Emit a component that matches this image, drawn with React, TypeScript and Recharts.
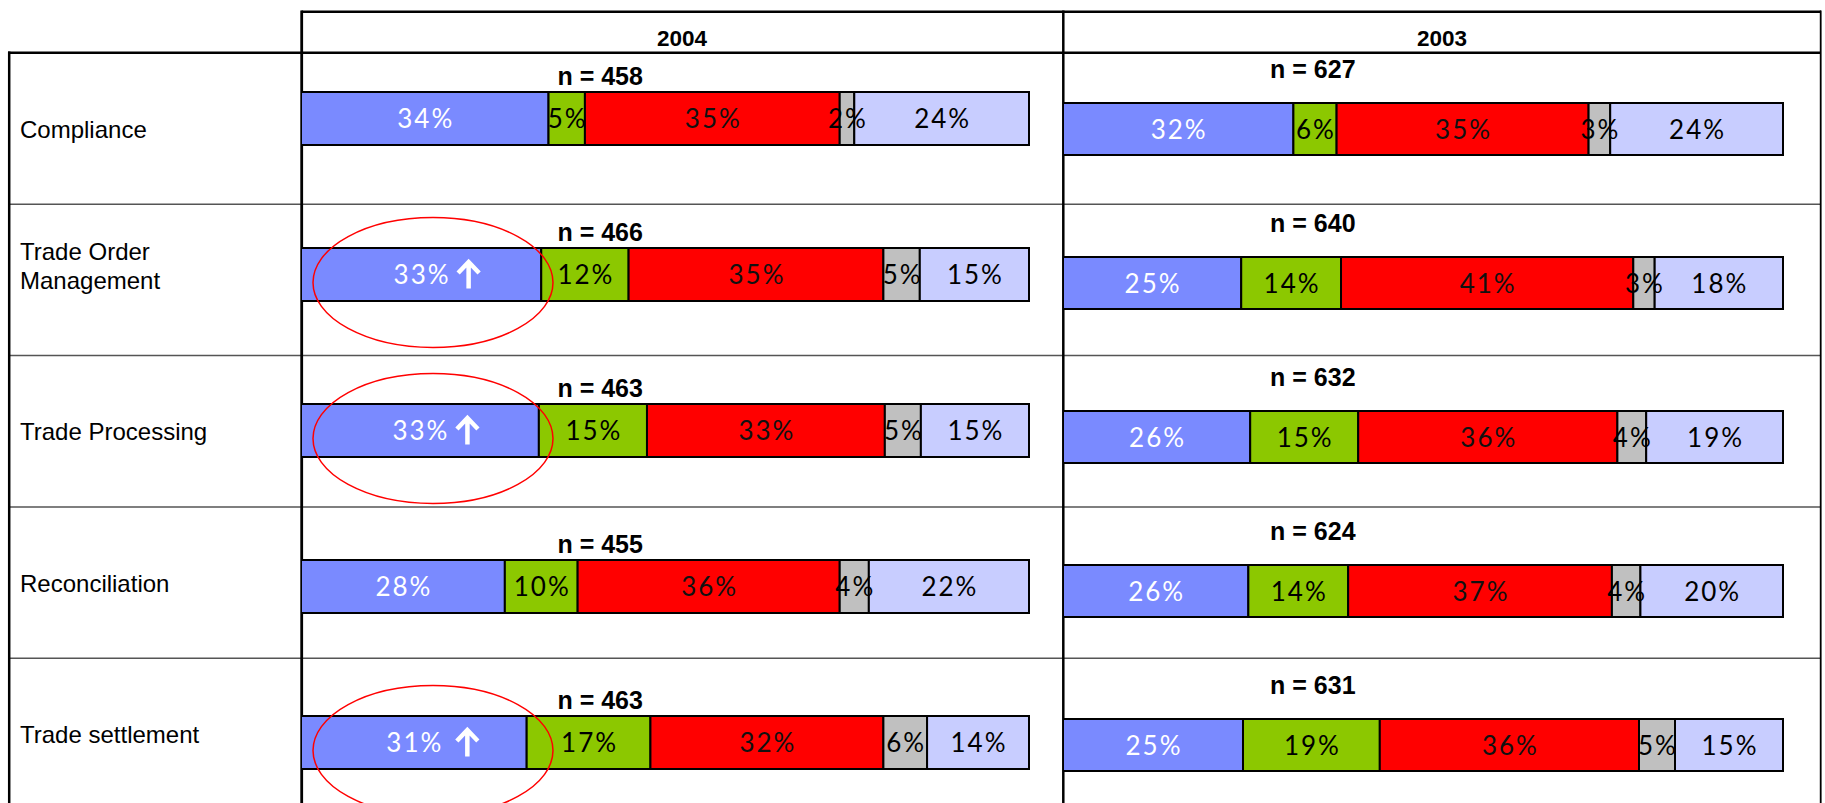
import React from "react";
import { BarChart, Bar, XAxis, YAxis, LabelList } from "recharts";

// ---------- data ----------
const categories = [
  "Compliance",
  "Trade Order Management",
  "Trade Processing",
  "Reconciliation",
  "Trade settlement",
];
const years = ["2004", "2003"];

const s1_2004 = [34, 33, 33, 28, 31];
const s2_2004 = [5, 12, 15, 10, 17];
const s3_2004 = [35, 35, 33, 36, 32];
const s4_2004 = [2, 5, 5, 4, 6];
const s5_2004 = [24, 15, 15, 22, 14];
const n_2004 = [458, 466, 463, 455, 463];
const up_2004 = ["none", "tight", "tight", "none", "space"];

const s1_2003 = [32, 25, 26, 26, 25];
const s2_2003 = [6, 14, 15, 14, 19];
const s3_2003 = [35, 41, 36, 37, 36];
const s4_2003 = [3, 3, 4, 4, 5];
const s5_2003 = [24, 18, 19, 20, 15];
const n_2003 = [627, 640, 632, 624, 631];
const up_2003 = ["none", "none", "none", "none", "none"];

// ---------- styles ----------
const segColors = ["#7A8AFF", "#8CC800", "#FF0000", "#C0C0C0", "#C8CDFF"];
const segTextColors = ["#FFFFFF", "#000000", "#111111", "#000000", "#000000"];
const pctFont = "Lato, 'Open Sans', 'DejaVu Sans', sans-serif";
const boldFont = "'Liberation Sans', Arial, sans-serif";

function buildRows(a: number[], b: number[], c: number[], d: number[], e: number[], n: number[], up: string[]) {
  return categories.map((name, i) => ({
    name,
    v0: a[i],
    v1: b[i],
    v2: c[i],
    v3: d[i],
    v4: e[i],
    n: n[i],
    up: up[i],
  }));
}

const rows2004 = buildRows(s1_2004, s2_2004, s3_2004, s4_2004, s5_2004, n_2004, up_2004);
const rows2003 = buildRows(s1_2003, s2_2003, s3_2003, s4_2003, s5_2003, n_2003, up_2003);

function getBox(p: any) {
  const vb = p.viewBox || {};
  return {
    x: vb.x !== undefined ? vb.x : p.x,
    y: vb.y !== undefined ? vb.y : p.y,
    w: vb.width !== undefined ? vb.width : p.width,
    h: vb.height !== undefined ? vb.height : p.height,
  };
}

const makePctLabel = (color: string) => (p: any) => {
  const { x, y, w, h } = getBox(p);
  if (x === undefined) return null;
  return (
    <text
      x={x + w / 2 + 1}
      y={y + h / 2 + 9.5}
      textAnchor="middle"
      fill={color}
      fontFamily={pctFont}
      fontWeight={400}
      fontSize={26}
      letterSpacing={2}
    >
      {`${p.value}%`}
    </text>
  );
};

const ArrowLabel = (p: any) => {
  const { x, y, w, h } = getBox(p);
  if (x === undefined || p.value === "none") return null;
  const cx = x + w / 2;
  const cy = y + h / 2;
  const ax = cx + (p.value === "space" ? 42 : 36);
  return (
    <g>
      <path
        d={`M${ax + 11.5},${cy + 14} L${ax + 11.5},${cy - 11} M${ax + 1},${cy - 1.5} L${ax + 11.5},${cy - 12.5} L${ax + 22},${cy - 1.5}`}
        stroke="#FFFFFF"
        strokeWidth={4.5}
        fill="none"
      />
      <ellipse cx={x + 132} cy={cy + 8} rx={120} ry={65} fill="none" stroke="#FF0000" strokeWidth={1.5} />
    </g>
  );
};

const makeNLabel = (plotW: number, frac: number, gap: number) => (p: any) => {
  const { x, y, w } = getBox(p);
  if (x === undefined) return null;
  const left = x + w - plotW;
  return (
    <text
      x={left + plotW * frac}
      y={y - gap}
      textAnchor="middle"
      fill="#000"
      fontFamily={boldFont}
      fontWeight="bold"
      fontSize={25}
    >
      {`n = ${p.value}`}
    </text>
  );
};

function StackChart(props: {
  rows: any[];
  width: number;
  height: number;
  barSize: number;
  nFrac: number;
  nGap: number;
}) {
  const { rows, width, height, barSize, nFrac, nGap } = props;
  const plotW = width - 2;
  const keys = ["v0", "v1", "v2", "v3", "v4"];
  return (
    <BarChart
      width={width}
      height={height}
      data={rows}
      layout="vertical"
      stackOffset="expand"
      barSize={barSize}
      margin={{ top: 0, right: 2, bottom: 0, left: 0 }}
    >
      <XAxis type="number" hide domain={[0, 1]} />
      <YAxis type="category" dataKey="name" hide />
      {keys.map((k, i) => (
        <Bar
          key={k}
          dataKey={k}
          stackId="a"
          fill={segColors[i]}
          stroke="#000"
          strokeWidth={2}
          isAnimationActive={false}
        >
          <LabelList dataKey={k} content={makePctLabel(segTextColors[i])} />
          {i === 0 && <LabelList dataKey="up" content={ArrowLabel} />}
          {i === 4 && <LabelList dataKey="n" content={makeNLabel(plotW, nFrac, nGap)} />}
        </Bar>
      ))}
    </BarChart>
  );
}

const rowTop0 = 53;
const rowH = 151.3;

export default function App() {
  return (
    <div
      style={{
        position: "absolute",
        left: 0,
        top: 0,
        width: 1825,
        height: 803,
        overflow: "hidden",
        background: "#fff",
      }}
    >
      {/* table grid */}
      <svg width={1825} height={803} style={{ position: "absolute", left: 0, top: 0 }}>
        {[1, 2, 3, 4].map((k) => (
          <line
            key={k}
            x1={9}
            x2={1821}
            y1={rowTop0 + rowH * k}
            y2={rowTop0 + rowH * k}
            stroke="#555"
            strokeWidth={1.5}
          />
        ))}
        <line x1={301.5} x2={1821} y1={11.7} y2={11.7} stroke="#000" strokeWidth={2.5} />
        <line x1={8} x2={1821} y1={52.7} y2={52.7} stroke="#000" strokeWidth={2.5} />
        <line x1={9.2} x2={9.2} y1={51.5} y2={803} stroke="#000" strokeWidth={2.5} />
        <line x1={301.7} x2={301.7} y1={10.5} y2={803} stroke="#000" strokeWidth={2.8} />
        <line x1={1063.3} x2={1063.3} y1={10.5} y2={803} stroke="#000" strokeWidth={2.5} />
        <line x1={1820.7} x2={1820.7} y1={10.5} y2={803} stroke="#000" strokeWidth={1.8} />
        <text x={682} y={45.5} textAnchor="middle" fontFamily={boldFont} fontWeight="bold" fontSize={22.5}>
          {years[0]}
        </text>
        <text x={1442} y={45.5} textAnchor="middle" fontFamily={boldFont} fontWeight="bold" fontSize={22.5}>
          {years[1]}
        </text>
      </svg>

      {/* row labels */}
      {categories.map((c, i) => (
        <div
          key={c}
          style={{
            position: "absolute",
            left: 20,
            top: rowTop0 + rowH * i + rowH / 2 + 15,
            transform: "translateY(-100%)",
            maxWidth: 205,
            fontFamily: "'Liberation Sans', Arial, sans-serif",
            fontSize: 24,
            lineHeight: "29px",
            color: "#000",
          }}
        >
          {c}
        </div>
      ))}

      {/* 2004 chart */}
      <div style={{ position: "absolute", left: 301, top: 40 }}>
        <StackChart rows={rows2004} width={730} height={780} barSize={53} nFrac={0.411} nGap={7} />
      </div>

      {/* 2003 chart */}
      <div style={{ position: "absolute", left: 1063, top: 52 }}>
        <StackChart rows={rows2003} width={722} height={770} barSize={52} nFrac={0.347} nGap={25} />
      </div>
    </div>
  );
}
